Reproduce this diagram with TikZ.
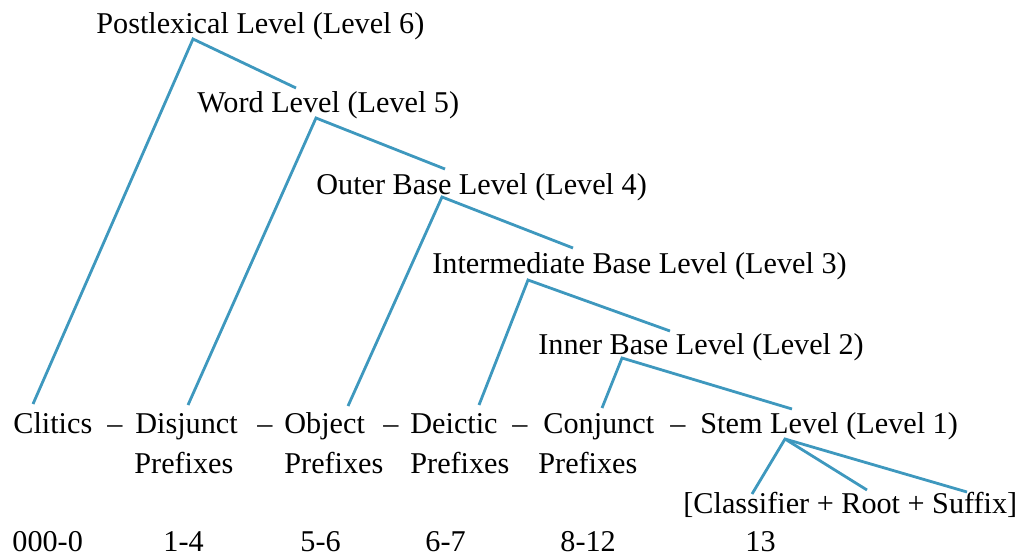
\documentclass[tikz,border=0pt]{standalone}
\usepackage{fontspec}
\setmainfont{Liberation Serif}
\definecolor{linkblue}{RGB}{62,152,190}
\begin{document}
\begin{tikzpicture}[x=0.5pt, y=-0.5pt,
    lvl/.style={anchor=base west, inner sep=0pt, font=\fontsize{15.1}{18}\selectfont},
    num/.style={lvl},
    branch/.style={draw=linkblue, line width=1.4pt, line join=miter}]
    \useasboundingbox (0,0) rectangle (1021,557);
    % level labels
    \node[lvl] (l6) at (96,33) {Postlexical Level (Level 6)};
    \node[lvl] (l5) at (197,112) {Word Level (Level 5)};
    \node[lvl] (l4) at (316,194) {Outer Base Level (Level 4)};
    \node[lvl] (l3) at (432,273) {Intermediate Base Level (Level 3)};
    \node[lvl] (l2) at (538,354) {Inner Base Level (Level 2)};
    % morpheme positions
    \node[lvl] (clitics) at (13,433) {Clitics};
    \node[lvl] (disjunct) at (135,433) {Disjunct};
    \node[lvl] (object) at (284,433) {Object};
    \node[lvl] (deictic) at (410,433) {Deictic};
    \node[lvl] (conjunct) at (543,433) {Conjunct};
    \node[lvl] (l1) at (700,433) {Stem Level (Level 1)};
    \foreach \x/\n in {107/d1, 257/d2, 383/d3, 512/d4, 670/d5}
        \node[lvl] (\n) at (\x,433) {--};
    \foreach \x/\n in {134/p1, 284/p2, 410/p3, 538/p4}
        \node[lvl] (\n) at (\x,473) {Prefixes};
    \node[lvl] (stem) at (683,513) {[Classifier + Root + Suffix]};
    % slot numbers
    \node[num] (n0) at (12,551) {000-0};
    \node[num] (n1) at (163,551) {1-4};
    \node[num] (n2) at (300,551) {5-6};
    \node[num] (n3) at (425,551) {6-7};
    \node[num] (n4) at (560,551) {8-12};
    \node[num] (n5) at (745,551) {13};
    % branch points
    \coordinate (a6) at (193,39);
    \coordinate (a5) at (316,118);
    \coordinate (a4) at (442,197);
    \coordinate (a3) at (528,280);
    \coordinate (a2) at (622,358);
    \coordinate (a1) at (785,439);
    % branch ends
    \coordinate (e6) at (296,88);
    \coordinate (e5) at (445,169);
    \coordinate (e4) at (573,248);
    \coordinate (e3) at (670,331);
    \coordinate (e2) at (792,409);
    \coordinate (t6) at (33,404);
    \coordinate (t5) at (188,405);
    \coordinate (t4) at (348,406);
    \coordinate (t3) at (479,405);
    \coordinate (t2) at (602,408);
    \coordinate (s1) at (752,494);
    \coordinate (s2) at (867,490);
    \coordinate (s3) at (967,492);
    \draw[branch] (t6) -- (a6) -- (e6);
    \draw[branch] (t5) -- (a5) -- (e5);
    \draw[branch] (t4) -- (a4) -- (e4);
    \draw[branch] (t3) -- (a3) -- (e3);
    \draw[branch] (t2) -- (a2) -- (e2);
    \draw[branch] (s1) -- (a1) -- (s3);
    \draw[branch] (a1) -- (s2);
\end{tikzpicture}
\end{document}
